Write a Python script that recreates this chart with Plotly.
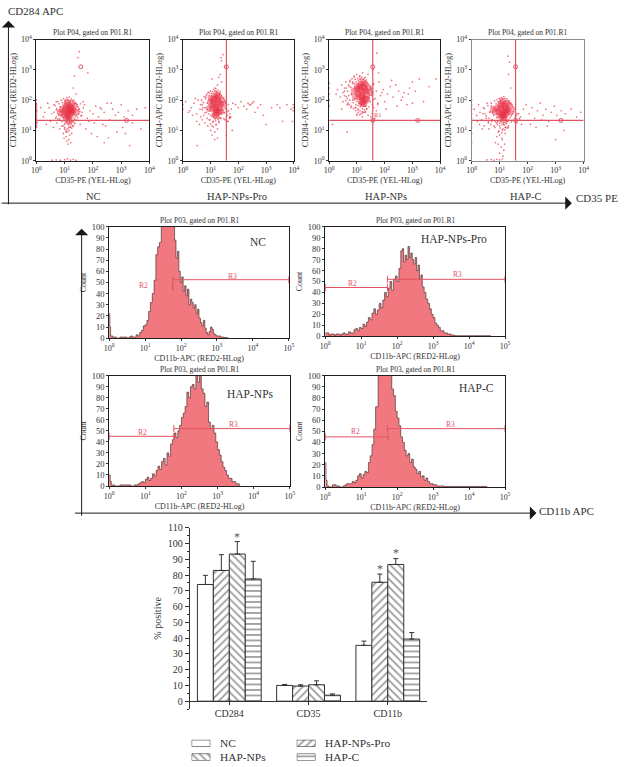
import numpy as np
import plotly.graph_objects as go

W, H = 624, 767
SERIF = "Liberation Serif"
RED = "rgb(232,40,62)"
GATE = "rgb(226,84,98)"
FILL = "rgb(240,120,126)"
INK = "rgb(50,50,50)"

# ---- dot plots, values are log10 of CD35-PE / CD284-APC
NC_CORE_X = [1.14, 1.05, 1.22, 0.98, 1.3, 1.1, 1.18, 1.02, 1.26, 1.12, 1.2, 1.08, 0.92, 1.34, 1.15, 1.0, 1.25, 1.16, 1.1, 1.22, 0.85, 1.4, 1.06, 1.19]
NC_CORE_Y = [1.65, 1.7, 1.72, 1.6, 1.68, 1.55, 1.8, 1.78, 1.58, 1.47, 1.5, 1.85, 1.7, 1.8, 1.38, 1.5, 1.88, 1.3, 1.92, 1.62, 1.6, 1.6, 1.42, 1.7]
NC_HALO_X = [0.62, 0.66, 0.7, 0.72, 0.75, 0.78, 0.8, 0.82, 0.84, 0.86, 0.88, 0.9, 0.92, 0.94, 0.96, 0.98, 1.0, 1.02, 1.04, 1.06, 1.08, 1.1, 1.12, 1.14, 1.16, 1.18, 1.2, 1.22, 1.24, 1.26, 1.28, 1.3, 1.32, 1.34, 1.36, 1.38, 1.4, 1.42, 1.44, 1.46, 1.48, 1.5, 1.52, 1.54, 1.56, 1.58, 1.62, 1.66, 0.7, 0.76, 0.84, 0.9, 1.0, 1.1, 1.2, 1.3, 1.4, 1.48, 0.95, 1.05, 1.15, 1.25, 1.35]
NC_HALO_Y = [1.6, 1.82, 1.45, 1.72, 1.95, 1.55, 1.88, 1.38, 1.78, 1.48, 2.0, 1.3, 1.92, 1.42, 2.05, 1.32, 1.98, 1.25, 2.02, 1.28, 2.08, 1.22, 2.0, 1.18, 2.1, 1.25, 1.98, 1.2, 2.04, 1.28, 1.96, 1.3, 2.0, 1.38, 1.92, 1.45, 1.9, 1.5, 1.85, 1.42, 1.78, 1.55, 1.7, 1.62, 1.88, 1.48, 1.6, 1.75, 1.68, 1.38, 1.62, 1.5, 1.1, 1.05, 1.12, 1.15, 1.35, 1.65, 1.15, 0.95, 1.0, 1.08, 1.22]
NC_X = [0, 0, 0, 0, 0, 0, 0, 0, 0, 0, 0, 0, 0, 0, 0, 0, 0, 0, 0.02, 0.02, 0.3, 0.45, 0.55, 0.62, 0.68, 0.75, 0.8, 0.7, 0.5, 0.4, 0.25, 0.15, 0.35, 0.6, 0.72, 0.82, 0.9, 0.95, 1.0, 1.05, 1.1, 1.15, 1.2, 1.25, 1.0, 1.08, 1.18, 1.28, 1.12, 0.98, 1.22, 1.35, 1.05, 1.15, 1.5, 1.6, 1.7, 1.8, 1.9, 2.0, 2.1, 2.2, 2.3, 2.4, 2.5, 2.6, 2.7, 2.8, 2.9, 3.0, 3.1, 3.25, 3.4, 3.55, 1.65, 1.85, 2.05, 2.25, 2.45, 2.65, 2.85, 1.55, 1.75, 1.95, 2.15, 2.35, 2.55, 3.05, 3.3, 3.7, 3.85, 1.52, 1.47, 1.82, 1.35, 1.3, 1.4, 0.55, 0.7, 0.85, 1.0, 1.1, 1.2, 1.3, 1.4, 2.4, 3.15, 3.4]
NC_Y = [1.1, 1.15, 1.2, 1.25, 1.3, 1.35, 1.4, 1.45, 1.5, 1.55, 1.6, 1.65, 1.7, 1.75, 1.8, 1.85, 1.9, 2.0, 1.25, 1.65, 1.6, 1.75, 1.55, 1.85, 1.4, 1.65, 1.5, 1.95, 1.3, 1.9, 1.45, 1.75, 1.2, 1.1, 1.25, 1.05, 1.15, 0.9, 1.05, 0.8, 0.95, 0.7, 1.1, 0.9, 1.2, 0.65, 0.85, 1.15, 0.55, 0.75, 0.6, 1.25, 1.0, 1.1, 1.7, 1.5, 1.85, 1.4, 1.65, 1.55, 1.8, 1.45, 1.7, 1.6, 1.9, 1.35, 1.7, 1.5, 1.6, 1.85, 1.45, 1.65, 1.5, 1.7, 1.95, 1.3, 1.25, 1.75, 1.15, 1.9, 0.95, 1.2, 1.05, 0.9, 0.8, 1.2, 0.75, 1.1, 0.5, 1.05, 1.75, 3.6, 3.4, 2.9, 2.8, 2.4, 2.2, 0.02, 0.03, 0.02, 0.04, 0.06, 0.02, 0.05, 0.02, 0.6, 0.9, 1.25]

PRO_CORE_X = [1.2, 1.12, 1.28, 1.05, 1.35, 1.18, 1.25, 1.1, 1.32, 1.2, 1.28, 1.14, 1.0, 1.4, 1.22, 1.08, 1.3, 1.22, 1.16, 0.95, 1.45, 1.2, 1.02, 1.36]
PRO_CORE_Y = [1.86, 1.92, 1.95, 1.82, 1.88, 1.76, 2.05, 2.02, 1.75, 1.68, 2.12, 2.12, 1.95, 2.0, 1.6, 1.72, 1.65, 2.18, 1.55, 1.72, 1.85, 1.5, 2.05, 1.62]
PRO_HALO_X = [0.64, 0.68, 0.7, 0.74, 0.77, 0.8, 0.82, 0.85, 0.87, 0.89, 0.91, 0.93, 0.95, 0.97, 0.99, 1.01, 1.03, 1.05, 1.07, 1.09, 1.11, 1.13, 1.15, 1.17, 1.19, 1.21, 1.23, 1.25, 1.27, 1.29, 1.31, 1.33, 1.35, 1.37, 1.39, 1.41, 1.43, 1.45, 1.47, 1.49, 1.51, 1.53, 1.55, 1.57, 1.6, 1.64, 1.68, 1.72, 0.72, 0.8, 0.88, 0.98, 1.08, 1.18, 1.28, 1.38, 1.48, 1.0, 1.1, 1.2, 1.3]
PRO_HALO_Y = [1.85, 2.0, 1.68, 1.92, 2.12, 1.75, 2.05, 1.6, 2.2, 1.7, 2.25, 1.55, 2.15, 1.65, 2.3, 1.5, 2.22, 1.45, 2.28, 1.52, 2.35, 1.42, 2.3, 1.38, 2.38, 1.45, 2.25, 1.4, 2.32, 1.48, 2.22, 1.42, 2.28, 1.55, 2.15, 1.6, 2.1, 1.68, 2.05, 1.58, 1.98, 1.72, 1.9, 1.8, 1.62, 1.85, 1.45, 1.42, 1.75, 1.58, 1.9, 1.35, 1.28, 1.32, 1.36, 1.4, 1.38, 1.22, 1.12, 1.18, 1.25]
PRO_X = [0, 0, 0.1, 0.2, 0.3, 0.4, 0.5, 0.55, 0.62, 0.7, 0.75, 0.82, 0.88, 0.5, 0.35, 0.25, 0.6, 0.7, 0.45, 0.65, 0.8, 0.9, 0.95, 1.0, 1.05, 1.1, 1.15, 1.2, 1.25, 1.3, 1.35, 1.05, 1.15, 1.25, 0.85, 0.95, 1.35, 1.45, 1.5, 1.55, 1.6, 1.65, 1.7, 1.75, 1.8, 1.68, 1.58, 1.72, 1.62, 1.9, 2.0, 2.1, 2.2, 2.3, 2.4, 2.5, 2.6, 2.7, 2.8, 2.9, 3.0, 3.2, 3.4, 3.6, 3.75, 3.9, 3.98, 3.98, 3.98, 1.45, 1.4, 1.5, 1.35, 1.25, 1.15, 1.2, 0.52, 2.35, 2.45, 2.55, 3.5, 3.95, 1.62, 1.78, 1.52, 1.57, 1.4, 1.05, 1.3, 1.38]
PRO_Y = [1.85, 1.7, 1.95, 1.6, 1.75, 1.9, 1.55, 2.0, 1.7, 1.85, 1.5, 2.1, 1.4, 1.3, 1.5, 1.65, 1.2, 1.35, 2.05, 1.45, 1.25, 1.15, 1.35, 1.0, 1.15, 1.3, 0.95, 1.2, 1.05, 1.3, 1.4, 0.85, 0.7, 0.75, 2.15, 2.25, 2.2, 1.85, 1.6, 1.95, 1.5, 1.65, 1.55, 1.7, 1.9, 1.4, 1.7, 1.45, 1.3, 1.85, 1.75, 1.95, 1.8, 1.7, 1.85, 1.9, 1.6, 1.75, 1.85, 1.5, 1.2, 1.75, 1.85, 1.3, 1.85, 1.7, 1.75, 1.85, 1.65, 3.5, 3.3, 3.1, 2.85, 2.5, 2.4, 2.3, 0.5, 1.9, 1.85, 1.95, 1.75, 1.3, 1.3, 1.0, 1.35, 0.85, 2.6, 2.7, 2.75, 3.4]

NPS_CORE_X = [1.2, 1.12, 1.28, 1.05, 1.32, 1.18, 1.25, 1.1, 1.35, 1.2, 1.28, 1.14, 1.0, 1.42, 1.22, 1.08, 1.3, 1.22, 1.16, 0.95, 1.48, 1.2, 1.02, 1.36, 0.9, 1.25]
NPS_CORE_Y = [2.28, 2.34, 2.36, 2.22, 2.3, 2.15, 2.45, 2.44, 2.18, 2.08, 2.52, 2.52, 2.36, 2.4, 2.0, 2.12, 2.05, 2.58, 1.95, 2.1, 2.25, 1.9, 2.45, 2.02, 2.3, 1.88]
NPS_HALO_X = [0.5, 0.56, 0.62, 0.66, 0.7, 0.74, 0.78, 0.81, 0.84, 0.87, 0.9, 0.92, 0.94, 0.96, 0.98, 1.0, 1.02, 1.04, 1.06, 1.08, 1.1, 1.12, 1.14, 1.16, 1.18, 1.2, 1.22, 1.24, 1.26, 1.28, 1.3, 1.32, 1.34, 1.36, 1.38, 1.4, 1.42, 1.44, 1.46, 1.48, 1.5, 1.52, 1.54, 1.56, 1.58, 1.6, 0.65, 0.72, 0.8, 0.88, 0.95, 1.03, 1.11, 1.19, 1.27, 1.35, 1.43, 1.0, 1.1, 1.2, 1.3, 0.6]
NPS_HALO_Y = [2.25, 2.4, 2.12, 2.3, 2.5, 2.0, 2.42, 2.18, 2.6, 1.92, 2.55, 2.05, 2.68, 1.85, 2.6, 1.95, 2.72, 1.82, 2.65, 1.9, 2.78, 1.78, 2.7, 1.85, 2.75, 1.72, 2.68, 1.8, 2.72, 1.88, 2.62, 1.8, 2.66, 1.92, 2.58, 2.0, 2.52, 2.08, 2.45, 1.95, 2.38, 2.15, 2.28, 1.85, 2.5, 2.02, 2.05, 1.85, 2.2, 1.72, 1.75, 1.68, 1.65, 1.62, 1.68, 1.72, 1.78, 1.55, 1.52, 1.58, 1.62, 1.98]
NPS_X = [0, 0, 0, 0, 0, 0.25, 0.3, 0.4, 0.45, 0.5, 0.55, 0.6, 0.65, 0.7, 0.72, 0.78, 0.82, 0.85, 0.45, 0.55, 0.62, 0.68, 0.75, 0.8, 0.9, 0.95, 1.0, 1.05, 1.1, 1.15, 1.2, 1.25, 1.3, 1.35, 1.4, 0.9, 1.0, 1.1, 1.2, 1.3, 1.4, 0.75, 0.85, 0.95, 1.05, 1.5, 1.55, 1.6, 1.65, 1.7, 1.75, 1.8, 1.85, 1.9, 1.95, 2.0, 2.1, 2.2, 2.3, 2.4, 2.5, 2.6, 2.7, 2.8, 2.9, 3.0, 3.1, 3.25, 3.4, 3.6, 3.85, 1.6, 1.7, 1.55, 1.5, 1.65, 1.75, 2.05, 2.25, 2.45, 2.65, 2.85, 1.58, 1.72, 1.78, 0.12, 0.65, 3.0]
NPS_Y = [2.4, 2.2, 2.0, 1.8, 2.55, 2.2, 2.35, 2.1, 2.5, 1.95, 2.3, 2.6, 1.85, 2.15, 2.45, 1.75, 2.7, 2.0, 1.7, 2.15, 2.4, 1.9, 2.6, 1.8, 2.75, 1.65, 2.85, 1.7, 2.8, 1.55, 2.9, 1.6, 2.75, 1.7, 2.85, 2.8, 1.5, 2.7, 1.45, 1.6, 1.5, 2.65, 2.55, 1.75, 1.6, 2.4, 2.2, 2.55, 2.05, 2.3, 1.9, 2.6, 2.15, 2.25, 2.35, 1.95, 2.2, 2.45, 2.1, 2.5, 2.3, 2.0, 2.25, 1.85, 2.4, 2.6, 2.3, 2.7, 1.95, 2.45, 2.7, 1.75, 1.65, 1.55, 1.45, 1.4, 1.85, 1.7, 2.65, 1.8, 2.1, 2.2, 3.0, 3.55, 2.9, 1.2, 0.95, 1.9]

HC_CORE_X = [1.15, 1.05, 1.22, 0.98, 1.3, 1.1, 1.18, 1.02, 1.26, 1.12, 1.2, 1.08, 0.92, 1.35, 1.15, 1.0, 1.25, 1.16, 1.1, 1.22, 0.85, 1.4, 1.06, 0.78]
HC_CORE_Y = [1.67, 1.72, 1.74, 1.62, 1.7, 1.57, 1.84, 1.82, 1.58, 1.5, 1.52, 1.88, 1.74, 1.82, 1.42, 1.52, 1.9, 1.36, 1.96, 1.64, 1.62, 1.62, 1.44, 1.7]
HC_HALO_X = [0.4, 0.46, 0.52, 0.58, 0.62, 0.66, 0.7, 0.73, 0.76, 0.79, 0.82, 0.85, 0.87, 0.89, 0.91, 0.93, 0.95, 0.97, 0.99, 1.01, 1.03, 1.05, 1.07, 1.09, 1.11, 1.13, 1.15, 1.17, 1.19, 1.21, 1.23, 1.25, 1.27, 1.29, 1.31, 1.33, 1.35, 1.37, 1.39, 1.41, 1.43, 1.45, 1.47, 1.5, 1.53, 1.56, 1.62, 1.7, 0.6, 0.68, 0.74, 0.83, 0.92, 1.02, 1.12, 1.22, 1.32, 1.42, 0.98, 1.08, 1.18, 1.28]
HC_HALO_Y = [1.55, 1.72, 1.48, 1.82, 1.4, 1.62, 1.9, 1.35, 1.74, 1.5, 1.98, 1.3, 1.88, 1.42, 2.02, 1.28, 1.95, 1.32, 2.06, 1.24, 2.0, 1.3, 2.08, 1.2, 2.04, 1.25, 2.12, 1.18, 2.06, 1.25, 1.98, 1.22, 2.04, 1.3, 1.95, 1.35, 1.98, 1.42, 1.9, 1.48, 1.85, 1.55, 1.78, 1.62, 1.7, 1.45, 1.55, 1.4, 1.28, 1.2, 1.58, 1.1, 1.2, 1.08, 1.05, 1.1, 1.15, 1.28, 0.98, 0.92, 1.02, 1.08]
HC_X = [0, 0, 0, 0, 0, 0, 0, 0, 0, 0.1, 0.18, 0.25, 0.3, 0.36, 0.42, 0.48, 0.55, 0.6, 0.65, 0.7, 0.45, 0.52, 0.38, 0.28, 0.2, 0.62, 0.72, 0.8, 0.88, 0.95, 1.0, 1.05, 1.1, 1.15, 1.2, 1.25, 0.9, 1.0, 1.1, 1.2, 1.3, 0.85, 0.95, 1.05, 1.15, 1.08, 1.18, 1.0, 1.12, 1.5, 1.6, 1.68, 1.75, 1.85, 1.95, 2.05, 2.15, 2.25, 2.35, 2.45, 2.55, 2.65, 2.75, 2.85, 2.95, 3.05, 3.2, 3.35, 3.55, 3.75, 3.9, 1.62, 1.72, 1.78, 2.1, 2.3, 2.5, 2.7, 3.0, 3.3, 1.3, 1.35, 1.32, 0.55, 0.7, 0.8, 0.9, 1.0, 1.1, 1.4]
HC_Y = [1.1, 1.25, 1.4, 1.55, 1.7, 1.85, 2.0, 0.9, 0.6, 1.7, 1.5, 1.85, 1.6, 1.35, 1.75, 1.55, 1.9, 1.25, 1.6, 1.8, 1.15, 1.4, 1.05, 1.2, 1.3, 1.05, 1.3, 1.15, 1.25, 0.95, 1.15, 1.3, 1.0, 1.2, 1.1, 1.3, 0.8, 0.85, 0.7, 0.9, 1.1, 0.6, 0.55, 0.45, 0.35, 0.75, 0.55, 0.25, 0.15, 1.75, 1.5, 1.55, 1.45, 1.7, 1.85, 1.55, 1.75, 1.4, 1.65, 1.9, 1.5, 1.7, 1.3, 1.6, 1.8, 1.5, 1.65, 1.55, 1.7, 1.45, 1.6, 1.25, 1.35, 1.2, 1.2, 1.1, 1.35, 1.15, 0.7, 1.0, 3.45, 3.25, 2.85, 0.03, 0.04, 0.02, 0.05, 0.03, 0.06, 2.4]

DOT_GATE_V = 1.57  # log10 of vertical gate
DOT_GATE_H = 1.33  # log10 of horizontal gate
DOT_HANDLE_FAR = 3.19
DOT_HANDLE_TOP = 3.1

# ---- histograms, x is log10 of CD11b-APC, y is count
NC_HX = [0, 0.02, 0.04, 0.1, 0.2, 0.3, 0.4, 0.5, 0.55, 0.6, 0.65, 0.7, 0.75, 0.8, 0.85, 0.9, 0.95, 1.0, 1.05, 1.1, 1.15, 1.2, 1.25, 1.3, 1.35, 1.4, 1.45, 1.5, 1.6, 1.7, 1.75, 1.78, 1.82, 1.86, 1.9, 1.94, 1.98, 2.02, 2.06, 2.1, 2.14, 2.18, 2.22, 2.26, 2.3, 2.34, 2.38, 2.42, 2.46, 2.5, 2.54, 2.58, 2.62, 2.66, 2.7, 2.74, 2.78, 2.82, 2.86, 2.9, 2.94, 2.98, 3.02, 3.1, 3.2, 3.3]
NC_HY = [22, 10, 2, 1, 0, 1, 1, 0, 1, 2, 1, 1, 3, 2, 5, 7, 11, 12, 16, 24, 32, 40, 52, 75, 82, 86, 105, 120, 140, 130, 110, 102, 88, 72, 78, 60, 50, 55, 42, 47, 38, 44, 30, 35, 32, 27, 30, 22, 26, 18, 14, 11, 16, 9, 5, 3, 6, 10, 8, 4, 3, 2, 2, 1, 0.5, 0]

PRO_HX = [0, 0.1, 0.15, 0.25, 0.3, 0.4, 0.45, 0.5, 0.55, 0.65, 0.7, 0.8, 0.85, 0.9, 0.95, 1.0, 1.05, 1.1, 1.15, 1.2, 1.25, 1.3, 1.35, 1.4, 1.45, 1.5, 1.55, 1.6, 1.65, 1.7, 1.75, 1.8, 1.85, 1.9, 1.95, 2.0, 2.05, 2.1, 2.14, 2.18, 2.22, 2.26, 2.3, 2.34, 2.38, 2.42, 2.46, 2.5, 2.54, 2.58, 2.62, 2.66, 2.7, 2.75, 2.8, 2.85, 2.9, 2.95, 3.0, 3.05, 3.1, 3.15, 3.2, 3.3, 3.4, 3.5, 3.6, 4.6]
PRO_HY = [3, 1, 2, 1, 2, 1, 2, 3, 2, 4, 3, 6, 7, 5, 8, 7, 11, 9, 13, 17, 15, 21, 25, 20, 24, 30, 26, 33, 40, 36, 44, 50, 42, 52, 55, 50, 62, 78, 80, 68, 74, 70, 82, 72, 76, 70, 66, 72, 60, 65, 52, 56, 45, 40, 34, 30, 25, 20, 17, 12, 10, 8, 5, 3, 2, 1, 0.5, 0.3]

NPS_HX = [0, 0.03, 0.06, 0.15, 0.3, 0.45, 0.6, 0.7, 0.8, 0.85, 0.9, 0.95, 1.0, 1.05, 1.1, 1.15, 1.2, 1.25, 1.3, 1.35, 1.4, 1.45, 1.5, 1.55, 1.6, 1.65, 1.7, 1.75, 1.8, 1.85, 1.9, 1.95, 2.0, 2.05, 2.1, 2.15, 2.2, 2.25, 2.3, 2.35, 2.4, 2.45, 2.5, 2.55, 2.6, 2.65, 2.7, 2.75, 2.8, 2.85, 2.9, 2.95, 3.0, 3.05, 3.1, 3.15, 3.2, 3.25, 3.3, 3.4, 3.5, 3.6]
NPS_HY = [10, 4, 1, 0, 1, 1, 0, 1, 2, 3, 4, 3, 6, 8, 5, 7, 11, 9, 14, 18, 15, 22, 25, 19, 30, 27, 38, 42, 48, 44, 50, 55, 62, 66, 72, 85, 80, 90, 92, 88, 100, 94, 102, 88, 84, 72, 76, 58, 52, 55, 48, 40, 33, 28, 22, 17, 14, 10, 7, 4, 2, 0]

HC_HX = [0, 0.02, 0.05, 0.1, 0.2, 0.3, 0.4, 0.5, 0.55, 0.6, 0.7, 0.75, 0.8, 0.85, 0.9, 0.95, 1.0, 1.05, 1.1, 1.15, 1.2, 1.25, 1.3, 1.35, 1.4, 1.47, 1.55, 1.7, 1.8, 1.85, 1.9, 1.95, 2.0, 2.05, 2.1, 2.15, 2.2, 2.25, 2.3, 2.35, 2.4, 2.45, 2.5, 2.55, 2.6, 2.65, 2.7, 2.75, 2.8, 2.85, 2.9, 3.0, 3.1, 3.2, 3.3, 4.5]
HC_HY = [22, 6, 1, 0, 2, 1, 0, 1, 2, 3, 3, 5, 4, 6, 10, 12, 8, 11, 14, 13, 22, 28, 38, 52, 72, 100, 130, 130, 100, 88, 82, 68, 62, 55, 45, 40, 33, 28, 30, 22, 25, 18, 16, 12, 14, 9, 10, 6, 8, 5, 3, 2, 1, 1, 0.5, 0.3]

# ---- bar chart
MARKERS = ["CD284", "CD35", "CD11b"]
GROUPS = ["NC", "HAP-NPs-Pro", "HAP-NPs", "HAP-C"]
NC_VALUES = [74, 10, 35.4]
PRO_VALUES = [82.9, 9.6, 75.4]
NPS_VALUES = [93.3, 10.4, 86.7]
HC_VALUES = [77.5, 3.8, 39.4]
NC_ERR = [5.8, 0.6, 2.7]
PRO_ERR = [10, 0.8, 5.2]
NPS_ERR = [7.9, 2.5, 3.7]
HC_ERR = [11.2, 0.8, 4.1]
HATCHES = ["", "/", "\\", "-"]

fig = go.Figure()
axis_count = 0
annotations = []


def new_axes(left, right, top, bottom):
    """Reserve one x/y axis pair at a pixel box, return the ids."""
    global axis_count
    axis_count += 1
    suffix = "" if axis_count == 1 else str(axis_count)
    xa = dict(domain=[left / W, right / W], anchor="y" + suffix)
    ya = dict(domain=[1 - bottom / H, 1 - top / H], anchor="x" + suffix)
    fig.layout["xaxis" + suffix] = xa
    fig.layout["yaxis" + suffix] = ya
    return "x" + suffix, "y" + suffix, "xaxis" + suffix, "yaxis" + suffix


def label(text, px, py, size=8, color=INK, anchor="center"):
    annotations.append(dict(text=text, x=px / W, y=1 - py / H, xref="paper", yref="paper", xanchor=anchor, yanchor="middle",
                            showarrow=False, font=dict(family=SERIF, size=size, color=color)))


def power_ticks(n):
    return [10**i for i in range(n + 1)], [f"10<sup>{i}</sup>" for i in range(n + 1)]


def log_axis(n, title, line, title_size=8):
    vals, text = power_ticks(n)
    return dict(type="log", range=[0, n], tickvals=vals, ticktext=text, ticks="outside", ticklen=2,
                tickwidth=1, tickcolor=INK, showgrid=False, zeroline=False, mirror=True, showline=True,
                linecolor=line, linewidth=1, tickfont=dict(family=SERIF, size=8, color=INK),
                title=dict(text=title, font=dict(family=SERIF, size=title_size, color=INK), standoff=3))


def dot_plot(box, core, halo, sparse, frame, vline, hline, name, name_x):
    xid, yid, xa, ya = new_axes(*box)
    fig.layout[xa].update(log_axis(4, "CD35-PE (YEL-HLog)", frame))
    fig.layout[ya].update(log_axis(4, "CD284-APC (RED2-HLog)", frame, 8.4))
    fig.add_trace(go.Scatter(x=10 ** np.array(core[0]), y=10 ** np.array(core[1]), mode="markers", xaxis=xid, yaxis=yid,
                             marker=dict(size=7, color=RED, opacity=0.42, line=dict(width=0)), showlegend=False))
    for xs, ys in (halo, sparse):
        fig.add_trace(go.Scatter(x=10 ** np.array(xs), y=10 ** np.array(ys), mode="markers", xaxis=xid, yaxis=yid, cliponaxis=False,
                                 marker=dict(size=1.7, color=RED, opacity=0.65, line=dict(width=0)), showlegend=False))
    hx, hy = [], []
    if hline:
        fig.add_trace(go.Scatter(x=[1, 1e4], y=[10**DOT_GATE_H] * 2, mode="lines", xaxis=xid, yaxis=yid,
                                 line=dict(color=GATE, width=1.2), showlegend=False))
        hx.append(10**DOT_HANDLE_FAR)
        hy.append(10**DOT_GATE_H)
    if vline:
        fig.add_trace(go.Scatter(x=[10**DOT_GATE_V] * 2, y=[1, 1e4], mode="lines", xaxis=xid, yaxis=yid,
                                 line=dict(color=GATE, width=1.2), showlegend=False))
    if hline and vline:
        hx.append(10**DOT_GATE_V)
        hy.append(10**DOT_GATE_H)
    hx.append(10**DOT_GATE_V)
    hy.append(10**DOT_HANDLE_TOP)
    fig.add_trace(go.Scatter(x=hx, y=hy, mode="markers", xaxis=xid, yaxis=yid, showlegend=False,
                             marker=dict(size=4, symbol="circle-open", color=GATE, line=dict(width=1, color=GATE))))
    label("Plot P04, gated on P01.R1", (box[0] + box[1]) / 2, 27, size=7.5)
    label(name, name_x, 193, size=10.5)


def histogram(box, hx, hy, frame, r2, r3, r_text, name, name_px, title_y):
    xid, yid, xa, ya = new_axes(*box)
    fig.layout[xa].update(log_axis(5, "CD11b-APC (RED2-HLog)", frame))
    fig.layout[ya].update(type="linear", range=[0, 100], tickmode="array", tickvals=list(range(0, 101, 10)),
                          ticks="outside", ticklen=2, tickcolor=INK, showgrid=False, zeroline=False, mirror=True,
                          showline=True, linecolor=frame, linewidth=1, tickfont=dict(family=SERIF, size=8.5, color=INK),
                          title=dict(text="Count", font=dict(family=SERIF, size=8, color=INK), standoff=3))
    fig.add_trace(go.Scatter(x=10 ** np.array(hx), y=hy, mode="lines", xaxis=xid, yaxis=yid, fill="tozeroy", showlegend=False,
                             fillcolor=FILL, line=dict(color="rgb(55,35,35)", width=0.6, shape="hv")))
    for xs, level in (r2, r3):
        fig.add_trace(go.Scatter(x=10 ** np.array(xs), y=[level, level], mode="lines+markers", xaxis=xid, yaxis=yid, showlegend=False,
                                 line=dict(color=GATE, width=1), cliponaxis=False,
                                 marker=dict(symbol="line-ns", size=5, line=dict(width=1, color=GATE), color=GATE)))
    for text, (lx, ly) in r_text.items():
        annotations.append(dict(text=text, x=lx, y=ly, xref=xid, yref=yid, showarrow=False, xanchor="center", yanchor="middle",
                                font=dict(family=SERIF, size=7.5, color="rgb(230,85,98)")))
    label("Plot P03, gated on P01.R1", (box[0] + box[1]) / 2, title_y, size=7.5)
    label(name, name_px[0], name_px[1], size=11.5)


BLACK_FRAME = "rgb(30,30,30)"
dot_plot((32, 147, 34, 157), (NC_CORE_X, NC_CORE_Y), (NC_HALO_X, NC_HALO_Y), (NC_X, NC_Y), BLACK_FRAME, False, True, "NC", 90)
dot_plot((181, 294, 34, 157), (PRO_CORE_X, PRO_CORE_Y), (PRO_HALO_X, PRO_HALO_Y), (PRO_X, PRO_Y), BLACK_FRAME, True, False, "HAP-NPs-Pro", 236)
dot_plot((330, 443, 34, 157), (NPS_CORE_X, NPS_CORE_Y), (NPS_HALO_X, NPS_HALO_Y), (NPS_X, NPS_Y), BLACK_FRAME, True, True, "HAP-NPs", 388)
dot_plot((475, 589, 34, 157), (HC_CORE_X, HC_CORE_Y), (HC_HALO_X, HC_HALO_Y), (HC_X, HC_Y), "rgb(140,140,140)", True, True, "HAP-C", 530)
annotations.append(dict(text="R1", x=1.76, y=1.53, xref="x3", yref="y3", showarrow=False, xanchor="center", yanchor="middle",
                        font=dict(family=SERIF, size=6.5, color="rgb(230,85,98)")))

histogram((106, 289, 224, 337), NC_HX, NC_HY, BLACK_FRAME, ([1.77, 1.77], 46), ([1.77, 5], 52.5),
          {"R2": (0.96, 47.7), "R3": (3.44, 55.5)}, "NC", (258, 239), 218)
histogram((326, 509, 224, 335), PRO_HX, PRO_HY, BLACK_FRAME, ([0, 1.73], 44.5), ([1.73, 5], 52),
          {"R2": (0.77, 48), "R3": (3.67, 56)}, "HAP-NPs-Pro", (457, 236), 218)
histogram((106, 290, 375, 487), NPS_HX, NPS_HY, BLACK_FRAME, ([0, 1.79], 45), ([1.79, 5], 52),
          {"R2": (0.93, 48.7), "R3": (3.45, 56)}, "HAP-NPs", (250, 394), 369)
histogram((326, 509, 375, 488), HC_HX, HC_HY, BLACK_FRAME, ([0, 1.75], 45), ([1.73, 5], 52.4),
          {"R2": (0.85, 50), "R3": (3.47, 56.5)}, "HAP-C", (480, 388), 369)

# bar chart
xid, yid, xa, ya = new_axes(188, 430, 529.3, 713.3)
fig.layout[xa].update(type="category", categoryorder="array", categoryarray=MARKERS, range=[-0.5, 2.5], anchor="free",
                      position=1 - 705.3 / H, showline=True, linecolor=INK, linewidth=1, ticks="outside", ticklen=3,
                      tickcolor=INK, showgrid=False, tickfont=dict(family=SERIF, size=10, color=INK))
fig.layout[ya].update(range=[-5, 110], tickvals=list(range(0, 111, 10)), ticks="outside", ticklen=4, tickcolor=INK,
                      showline=True, linecolor=INK, linewidth=1, showgrid=False, zeroline=False,
                      minor=dict(tickvals=list(range(-5, 111, 10)), ticks="outside", ticklen=2, tickcolor=INK),
                      tickfont=dict(family=SERIF, size=10, color=INK),
                      title=dict(text="% positive", font=dict(family=SERIF, size=10, color=INK), standoff=4))
BAR_LINE = dict(color=INK, width=1)


def hatch_marker(hatch):
    return dict(color="white", line=BAR_LINE, pattern=dict(shape=hatch, fgcolor=INK, bgcolor="white", size=5.5, solidity=0.3))


series = [(NC_VALUES, NC_ERR), (PRO_VALUES, PRO_ERR), (NPS_VALUES, NPS_ERR), (HC_VALUES, HC_ERR)]
for group, (values, err), hatch in zip(GROUPS, series, HATCHES):
    fig.add_trace(go.Bar(x=MARKERS, y=values, name=group, xaxis=xid, yaxis=yid, showlegend=False, marker=hatch_marker(hatch),
                         error_y=dict(type="data", array=err, arrayminus=[0, 0, 0], symmetric=False,
                                      color=INK, thickness=1, width=2.5)))

STAR_X = [0.1, 1.9, 2.1]
STAR_Y = [104, 84, 94]
for sx, sy in zip(STAR_X, STAR_Y):
    annotations.append(dict(text="*", x=sx, y=sy, xref=xid, yref=yid, showarrow=False, xanchor="center", yanchor="middle",
                            font=dict(family=SERIF, size=12, color="rgb(90,90,90)")))

# key under the bars: a wide swatch per group, each one a small bar on its own axes
KEY_BOXES = [(190, 209, 744.5, 751.5), (297, 316, 744.5, 751.5), (190, 209, 758.5, 765.5), (297, 316, 758.5, 765.5)]
for group, hatch, box in zip(GROUPS, HATCHES, KEY_BOXES):
    kx, ky, kxa, kya = new_axes(*box)
    fig.layout[kxa].update(range=[0, 1], visible=False, fixedrange=True)
    fig.layout[kya].update(range=[0, 1], visible=False, fixedrange=True)
    fig.add_trace(go.Bar(x=[1], y=[0.5], width=[1], orientation="h", xaxis=kx, yaxis=ky, showlegend=False, marker=hatch_marker(hatch)))
    label(group, box[1] + 8, (box[2] + box[3]) / 2, size=11.4, anchor="left")

# big axes
LINE = "rgb(25,25,25)"
arrows = [(3.5, 200, 3.5, 15), (3.5, 200, 577, 200), (78, 514.5, 78, 226), (78, 514.5, 541, 514.5)]
for x0, y0, x1, y1 in arrows:
    annotations.append(dict(x=x1 / W, y=1 - y1 / H, xref="paper", yref="paper", ax=x0 - x1, ay=y0 - y1, axref="pixel", ayref="pixel",
                            text="", showarrow=True, arrowhead=1, arrowsize=2.2, arrowwidth=1, arrowcolor=LINE))

label("CD284 APC", 31, 5, size=11)
label("CD35 PE", 603, 195, size=11)
label("CD11b APC", 572, 512, size=11)

fig.update_layout(
    width=W,
    height=H,
    autosize=False,
    margin=dict(l=0, r=0, t=0, b=0),
    paper_bgcolor="white",
    plot_bgcolor="white",
    barmode="group",
    bargap=0.195,
    bargroupgap=0,
    annotations=annotations,
)

fig.write_html("out.html", config=dict(displayModeBar=False), post_script="document.body.style.margin='0';")
